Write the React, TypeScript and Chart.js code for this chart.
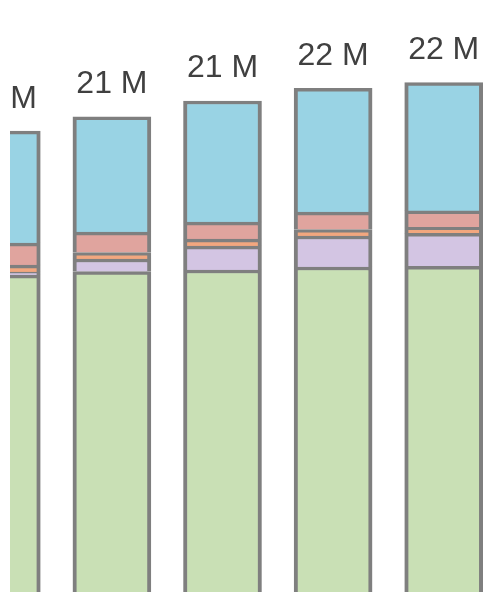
import React, { useEffect, useRef } from "react";
import { Chart, registerables } from "chart.js";

Chart.register(...registerables);

const categories = ["P1", "P2", "P3", "P4", "P5"];
const seriesNames = ["Segment A", "Segment B", "Segment C", "Segment D", "Segment E"];
const segmentA = [13.78, 13.93, 14.0, 14.13, 14.16]; // green (bottom)
const segmentB = [0.13, 0.55, 1.04, 1.35, 1.43]; // purple
const segmentC = [0.3, 0.28, 0.3, 0.28, 0.27]; // orange
const segmentD = [0.96, 0.89, 0.74, 0.76, 0.71]; // red
const segmentE = [4.87, 5.01, 5.27, 5.38, 5.58]; // blue (top)
const seriesColors = ["#c9e0b5", "#d3c5e3", "#f2a77f", "#e0a49e", "#99d3e4"];
const yMax = 25.74;

const allSeries = [segmentA, segmentB, segmentC, segmentD, segmentE];
const totals = categories.map((_, i) => allSeries.reduce((s, arr) => s + arr[i], 0));
const totalLabels = totals.map((t) => `${Math.round(t)} M`);

const totalLabelPlugin = {
  id: "totalLabels",
  afterDatasetsDraw(chart: any) {
    const ctx = chart.ctx;
    const meta = chart.getDatasetMeta(chart.data.datasets.length - 1);
    ctx.save();
    ctx.font = '32px "Liberation Sans", Arial, sans-serif';
    ctx.fillStyle = "#404040";
    ctx.textAlign = "center";
    ctx.textBaseline = "alphabetic";
    meta.data.forEach((bar: any, i: number) => {
      ctx.fillText(totalLabels[i], bar.x, bar.y - 23.5);
    });
    ctx.restore();
  },
};

export default function App() {
  const ref = useRef<HTMLCanvasElement | null>(null);

  useEffect(() => {
    if (!ref.current) return;
    const chart = new Chart(ref.current, {
      type: "bar",
      data: {
        labels: categories,
        datasets: allSeries.map((arr, k) => ({
          label: seriesNames[k],
          data: arr,
          backgroundColor: seriesColors[k],
          borderColor: "#7f7f7f",
          borderWidth: { top: 3.5, left: 4, right: 4, bottom: 0 },
          borderSkipped: "bottom",
          barThickness: 78,
        })),
      },
      options: {
        animation: false,
        responsive: false,
        layout: { padding: 0 },
        plugins: {
          legend: { display: false },
          tooltip: { enabled: false },
        },
        scales: {
          x: { stacked: true, display: false },
          y: { stacked: true, display: false, min: 0, max: yMax },
        },
      },
      plugins: [totalLabelPlugin],
    });
    return () => chart.destroy();
  }, []);

  return (
    <div
      style={{
        position: "absolute",
        left: 10,
        top: 0,
        width: 486,
        height: 592,
        overflow: "hidden",
      }}
    >
      <canvas
        ref={ref}
        width={553}
        height={592}
        style={{ position: "absolute", left: -64, top: 0, width: 553, height: 592 }}
      />
    </div>
  );
}
